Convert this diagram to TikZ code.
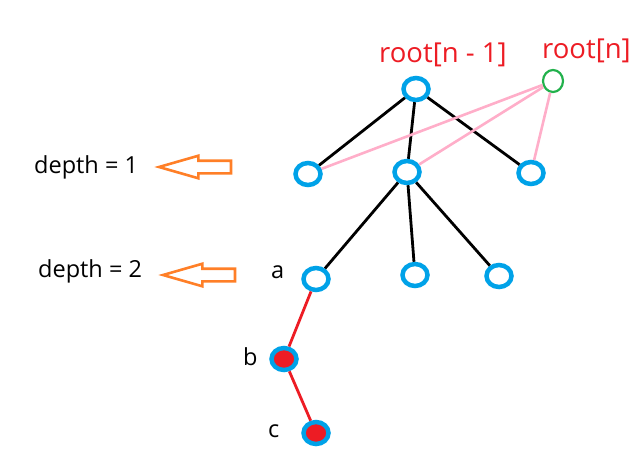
\documentclass[tikz,border=0pt]{standalone}
\usepackage{fontspec}
\setmainfont{Open Sans}
\usepackage{tikz}
\usetikzlibrary{shapes.geometric,shapes.arrows}
\definecolor{nodeblue}{RGB}{0,162,232}
\definecolor{markred}{RGB}{237,28,36}
\definecolor{newgreen}{RGB}{34,177,76}
\definecolor{linkpink}{RGB}{255,174,201}
\definecolor{hintorange}{RGB}{255,127,39}

\begin{document}
\begin{tikzpicture}[x=1pt,y=-1pt,
    vtx/.style={ellipse,draw=nodeblue,line width=4.5pt,inner sep=0pt,
      minimum width=25pt,minimum height=22pt},
    hit/.style={vtx,fill=markred},
    fresh/.style={ellipse,draw=newgreen,line width=2.2pt,inner sep=0pt,
      minimum width=20pt,minimum height=22pt},
    edge/.style={line width=2.8pt},
    redge/.style={line width=2.8pt,markred},
    pedge/.style={line width=2.6pt,linkpink},
    rootlbl/.style={font=\fontsize{27.5}{30}\selectfont,text=markred,
      inner sep=0pt,anchor=base west},
    lbl/.style={font=\fontsize{23.5}{26}\selectfont,inner sep=0pt,
      anchor=base west},
    hint/.style={single arrow,draw=hintorange,line width=2.6pt,
      shape border rotate=180,minimum height=72pt,inner xsep=0pt,
      inner ysep=5pt,single arrow head extend=5pt,
      single arrow tip angle=32}]
  % canvas, same size as the screenshot
  \useasboundingbox (0,0) rectangle (644,469);
  % --- Tree ---
  \node[vtx] (r) at (416,89) {};
  \node[fresh] (rn) at (553,81) {};
  \node[vtx] (l1) at (308,174) {};
  \node[vtx] (m1) at (407,172) {};
  \node[vtx] (r1) at (531,173) {};
  \node[vtx] (a) at (316,279) {};
  \node[vtx] (m2) at (415,275) {};
  \node[vtx] (r2) at (499,276) {};
  \node[hit] (b) at (284,359) {};
  \node[hit] (c) at (316,433) {};
  % black edges
  \foreach \u/\v in {r/l1,r/m1,r/r1,m1/a,m1/m2,m1/r2}
    \draw[edge] (\u) -- (\v);
  % new root reuses the old children
  \foreach \v in {l1,m1,r1}
    \draw[pedge] (rn) -- (\v);
  % deep path
  \draw[redge] (a) -- (b);
  \draw[redge] (b) -- (c);
  % --- Labels ---
  \node[rootlbl] (rlbl) at (379,62) {root[n - 1]};
  \node[rootlbl] (rnlbl) at (542,58) {root[n]};
  \node[lbl] (la) at (271,278) {a};
  \node[lbl] (lb) at (243,365) {b};
  \node[lbl] (lc) at (268,437) {c};
  % --- Depth hints ---
  \node[lbl] (d1) at (34,173) {depth = 1};
  \node[lbl] (d2) at (38,277) {depth = 2};
  \node[hint] (h1) at (206,167) {};
  \node[hint] (h2) at (210,275) {};
\end{tikzpicture}
\end{document}
